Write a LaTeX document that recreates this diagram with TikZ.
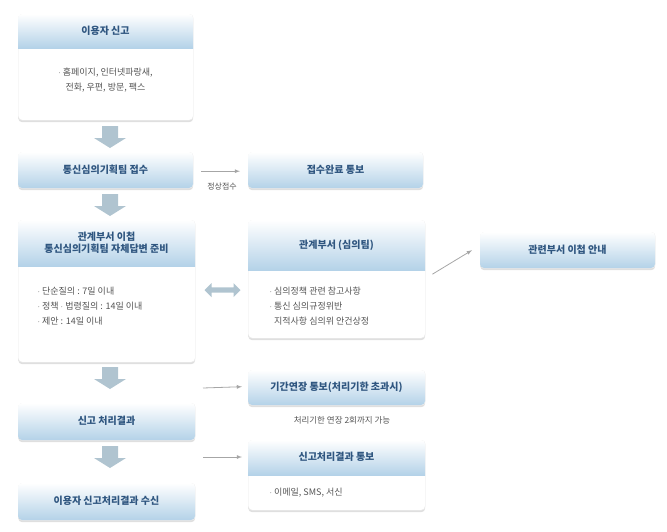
\documentclass[tikz,border=0pt]{standalone}
\usepackage{fontspec}
\setmainfont{Noto Sans CJK KR}
\usetikzlibrary{shadows,shapes.arrows}
\definecolor{hdtxt}{HTML}{2F5680}
\definecolor{bdtxt}{HTML}{555555}
\definecolor{hdbot}{HTML}{B4D2E8}
\definecolor{arr}{HTML}{B0C4D0}
\tikzset{
  boxframe/.style={draw=black!8,rounded corners=4pt,fill=white,drop shadow={shadow xshift=0pt,shadow yshift=-2pt,opacity=0.25}},
  hd/.style={font=\fontsize{10}{12}\selectfont\bfseries,text=hdtxt,align=center},
  bd/.style={font=\fontsize{9}{15}\selectfont,text=bdtxt,align=left},
  thin arrow/.style={draw=black!35,line width=0.8pt,-latex},
  blockarr/.style={fill=arr},
}
\newcommand{\hdbox}[6]{% name, x1,y1,x2,y2, header bottom y
  \node[boxframe,minimum width=#4-#2,minimum height=#5-#3,inner sep=0pt,anchor=north west] (#1) at (#2,#3) {};
  \begin{scope}
    \clip[rounded corners=4pt] (#2,#3) rectangle (#4,#5);
    \shade[top color=white,bottom color=hdbot] (#2,#3) rectangle (#4,#6);
  \end{scope}}
\newcommand{\blk}[3]{% name, x, y top
  \coordinate (#1) at (#2,#3);
  \fill[blockarr] ([xshift=-8pt]#1) -- ++(16,0) -- ++(0,12) -- ++(8,0) -- ([yshift=-22pt]#1) -- ++(-16,-10) -- ++(8,0) -- cycle;}
\begin{document}
\begin{tikzpicture}[x=1pt,y=-1pt]
\useasboundingbox (0,0) rectangle (667,531);
% A
\hdbox{A}{18}{14}{193}{120}{48}
\node[hd] (At) at (105.5,31) {이용자 신고};
\node[bd,align=center] (Ab) at (105.5,80) {$\cdot$ 홈페이지, 인터넷파랑새,\\전화, 우편, 방문, 팩스};
\blk{a1}{110}{126}
% B
\hdbox{B}{18}{152}{193}{188}{188}
\node[hd] (Bt) at (105.5,170) {통신심의기획팀 접수};
% C
\hdbox{C}{248}{152}{423}{188}{188}
\node[hd] (Ct) at (335.5,170) {접수완료 통보};
\draw[thin arrow] (B.east)+(8,1) -- ([xshift=-8pt,yshift=-1pt]C.west);
\node[font=\fontsize{8}{10}\selectfont,text=bdtxt] (lbl) at (222,186) {정상접수};
\blk{a2}{110}{194}
% D
\hdbox{D}{18}{220}{195}{362}{266}
\node[hd] (Dt) at (106.5,243) {관계부서 이첩\\통신심의기획팀 자체답변 준비};
\node[bd,anchor=north west] (Db) at (34,284) {$\cdot$ 단순질의 : 7일 이내\\$\cdot$ 정책 $\cdot$ 법령질의 : 14일 이내\\$\cdot$ 제안 : 14일 이내};
% E
\hdbox{E}{248}{220}{425}{338}{270}
\node[hd] (Et) at (336.5,245) {관계부서 (심의팀)};
\node[bd,anchor=north west] (Eb) at (266,283) {$\cdot$ 심의정책 관련 참고사항\\$\cdot$ 통신 심의규정위반\\\phantom{$\cdot$} 지적사항 심의위 안건상정};
\node[double arrow,fill=arr,minimum height=36pt,minimum width=14pt,double arrow head extend=2pt,inner sep=1pt] (dbl) at (222.5,290) {};
% F
\hdbox{F}{480}{232}{655}{268}{268}
\node[hd] (Ft) at (567.5,250) {관련부서 이첩 안내};
\draw[thin arrow] ([xshift=7pt,yshift=5pt]E.east) -- ([xshift=-8pt]F.west);
\blk{a3}{110}{367}
% G
\hdbox{G}{248}{370}{425}{405}{405}
\node[hd] (Gt) at (336.5,387) {기간연장 통보(처리기한 초과시)};
\draw[thin arrow] (203,388) -- ([xshift=-6pt,yshift=1pt]G.west);
\node[font=\fontsize{8.5}{10}\selectfont,text=bdtxt] (note) at (342,420) {처리기한 연장 2회까지 가능};
% H
\hdbox{H}{18}{403}{195}{440}{440}
\node[hd] (Ht) at (106.5,421) {신고 처리결과};
\blk{a4}{110}{446}
% I
\hdbox{I}{248}{440}{425}{510}{475}
\node[hd] (It) at (336.5,457) {신고처리결과 통보};
\node[bd,anchor=west] (Ib) at (266,493) {$\cdot$ 이메일, SMS, 서신};
\draw[thin arrow] (203,457) -- ([xshift=-6pt]I.west |- 0,457);
% J
\hdbox{J}{18}{483}{195}{520}{520}
\node[hd] (Jt) at (106.5,501) {이용자 신고처리결과 수신};
\end{tikzpicture}
\end{document}
